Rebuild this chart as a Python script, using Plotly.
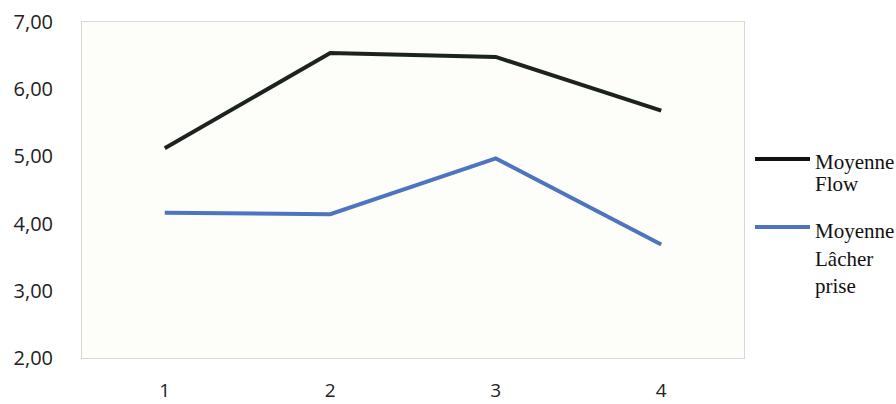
import plotly.graph_objects as go

# Mean scores per session
sessions = [1, 2, 3, 4]
moyenne_flow = [5.12, 6.54, 6.48, 5.68]
moyenne_lacher_prise = [4.16, 4.14, 4.97, 3.69]
y_ticks = [2, 3, 4, 5, 6, 7]
y_tick_labels = ["2,00", "3,00", "4,00", "5,00", "6,00", "7,00"]

flow_color = "#1c231e"
lacher_color = "#4f74bf"

fig = go.Figure()
fig.add_trace(go.Scatter(x=sessions, y=moyenne_flow, mode="lines",
                         line=dict(color=flow_color, width=4),
                         name="Moyenne Flow", showlegend=False))
fig.add_trace(go.Scatter(x=sessions, y=moyenne_lacher_prise, mode="lines",
                         line=dict(color=lacher_color, width=4),
                         name="Moyenne Lâcher prise", showlegend=False))

W, H = 896, 404
L, R, T, B = 82, 744, 22, 358

def px(x):
    return (x - L) / (R - L)

def py(y):
    return (B - y) / (B - T)

# Hand-placed legend on the right
legend_font = dict(family="Liberation Serif", size=21, color="#111111")
shapes = [
    dict(type="line", xref="paper", yref="paper", x0=px(755), x1=px(810),
         y0=py(159), y1=py(159), line=dict(color="#111111", width=4)),
    dict(type="line", xref="paper", yref="paper", x0=px(755), x1=px(810),
         y0=py(227), y1=py(227), line=dict(color=lacher_color, width=4)),
]
annotations = []
for text, yc in [("Moyenne", 162), ("Flow", 184),
                 ("Moyenne", 231), ("Lâcher", 259), ("prise", 286)]:
    annotations.append(dict(text=text, xref="paper", yref="paper",
                            x=px(813), y=py(yc), xanchor="left", yanchor="middle",
                            showarrow=False, font=legend_font))

fig.update_layout(
    width=W, height=H,
    margin=dict(l=L, r=W - R, t=T, b=H - B),
    paper_bgcolor="white",
    plot_bgcolor="#fdfdfa",
    font=dict(family="Open Sans", size=20, color="#222222"),
    shapes=shapes,
    annotations=annotations,
    xaxis=dict(range=[0.5, 4.5], tickvals=sessions, ticktext=[str(s) for s in sessions],
               showgrid=False, zeroline=False, showline=True, mirror=True,
               linecolor="#d8d8d8", linewidth=1, ticks="", ticklabelstandoff=15,
               tickfont=dict(size=19), automargin=False),
    yaxis=dict(range=[2, 7], tickvals=y_ticks, ticktext=y_tick_labels,
               showgrid=False, zeroline=False, showline=True, mirror=True,
               linecolor="#d8d8d8", linewidth=1, ticks="", ticklabelstandoff=24,
               tickfont=dict(size=20), automargin=False),
)

fig.write_html("out.html")
